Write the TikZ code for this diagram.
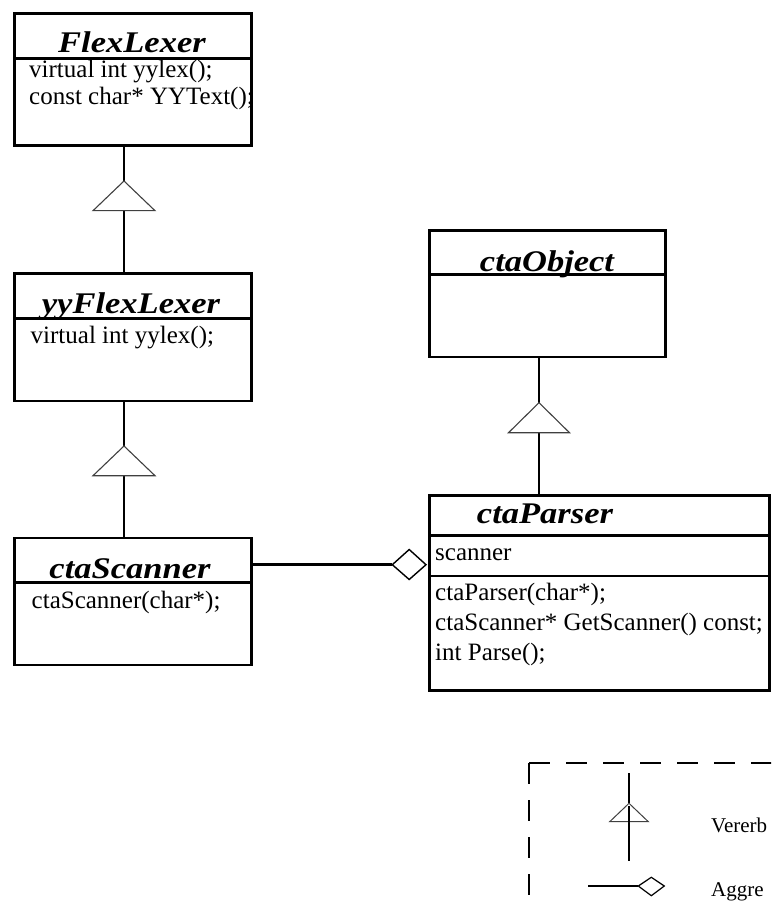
\documentclass[tikz,border=0pt]{standalone}
\usepackage{fontspec}
\setmainfont{Liberation Serif}
\newfontfamily\titlefont[FakeStretch=1.15]{Liberation Serif}
\begin{document}
\begin{tikzpicture}[x=1pt,y=-1pt,
  classbox/.style={draw, line width=2.8pt, anchor=north west, inner sep=0pt, minimum width=#1},
  classbox/.default=237pt,
  sepline/.style={line width=2.6pt},
  conn/.style={line width=2.6pt},
  inhtri/.style={draw=black!75, line width=1.1pt, fill=white, line join=miter},
  aggdiam/.style={draw, line width=1.4pt, fill=white},
  ctitle/.style={anchor=base, inner sep=0pt, font=\titlefont\bfseries\itshape\fontsize{30}{34}\selectfont},
  member/.style={anchor=base west, inner sep=0pt, font=\fontsize{25}{28}\selectfont},
  legtext/.style={anchor=base west, inner sep=0pt, font=\fontsize{21}{25}\selectfont},
  legdash/.style={line width=2pt, dash pattern=on 21pt off 16pt}]
\useasboundingbox (0,0) rectangle (771,909);
\clip (0,0) rectangle (771,909);

% class boxes
\node[classbox, minimum height=132pt]   (flex)    at (13,12)    {};
\node[classbox, minimum height=127.5pt] (yyflex)  at (13,272)   {};
\node[classbox, minimum height=127pt]   (scanner) at (13,536.5) {};
\node[classbox=236pt, minimum height=126.5pt] (object) at (428,229) {};
\node[classbox=340pt, minimum height=195pt]   (parser) at (428,494) {};

% compartment separators
\draw[sepline] (flex.west |- 0,58.3)    -- (flex.east |- 0,58.3);
\draw[sepline] (yyflex.west |- 0,318.3) -- (yyflex.east |- 0,318.3);
\draw[sepline] (scanner.west |- 0,582.3) -- (scanner.east |- 0,582.3);
\draw[sepline] (object.west |- 0,274.5) -- (object.east |- 0,274.5);
\draw[sepline] (parser.west |- 0,535.3) -- (parser.east |- 0,535.3);
\draw[sepline] (parser.west |- 0,575.8) -- (parser.east |- 0,575.8);

% class names
\node[ctitle] (flexname)    at (132,53)  {FlexLexer};
\node[ctitle] (yyflexname)  at (131,313) {yyFlexLexer};
\node[ctitle] (scannername) at (130,578) {ctaScanner};
\node[ctitle] (objectname)  at (547,271) {ctaObject};
\node[ctitle] (parsername)  at (545,523) {ctaParser};

% members
\node[member] (f1) at (29,77.3)  {virtual int yylex();};
\node[member] (f2) at (29,104.5) {const char* YYText();};
\node[member] (y1) at (30.5,343) {virtual int yylex();};
\node[member] (s1) at (31.5,608) {ctaScanner(char*);};
\node[member] (p0) at (435,560)  {scanner};
\node[member] (p1) at (435,600)  {ctaParser(char*);};
\node[member] (p2) at (435,630)  {ctaScanner* GetScanner() const;};
\node[member] (p3) at (435,660)  {int Parse();};

% inheritance: FlexLexer <- yyFlexLexer
\coordinate (t1a) at (124,181);
\coordinate (t1b) at (124,210.7);
\draw[conn] (t1a |- flex.south) -- (t1a);
\draw[conn] (t1b) -- (t1b |- yyflex.north);
\draw[inhtri] (t1a) -- (155,210.7) -- (93,210.7) -- cycle;

% inheritance: yyFlexLexer <- ctaScanner
\coordinate (t2a) at (124,446);
\coordinate (t2b) at (124,475.7);
\draw[conn] (t2a |- yyflex.south) -- (t2a);
\draw[conn] (t2b) -- (t2b |- scanner.north);
\draw[inhtri] (t2a) -- (155,475.7) -- (93,475.7) -- cycle;

% inheritance: ctaObject <- ctaParser
\coordinate (t3a) at (539,402.7);
\coordinate (t3b) at (539,432.7);
\draw[conn] (t3a |- object.south) -- (t3a);
\draw[conn] (t3b) -- (t3b |- parser.north);
\draw[inhtri] (t3a) -- (569.5,432.7) -- (508.5,432.7) -- cycle;

% aggregation: ctaParser holds a ctaScanner
\coordinate (agg) at (392.3,564.7);
\draw[conn] (agg -| scanner.east) -- (agg);
\draw[aggdiam] (agg) -- (409.2,549.5) -- (426,564.7) -- (409.2,579.5) -- cycle;

% legend frame
\coordinate (lg) at (529,763);
\draw[legdash] (lg) -- (790,763);
\draw[legdash] (lg) -- (529,930);

% legend: inheritance
\coordinate (lta) at (629,803.3);
\coordinate (ltb) at (629,821.7);
\draw[line width=2pt] (629,773) -- (lta);
\draw[line width=2pt] (ltb) -- (629,860.7);
\draw[inhtri, line width=1pt] (lta) -- (648.3,821.7) -- (609.7,821.7) -- cycle;
\draw[line width=2pt] (ltb) -- (629,806);
\node[legtext] (lvererb) at (711,832.7) {Vererb};

% legend: aggregation
\coordinate (lda) at (638.3,886);
\draw[line width=2pt] (588.3,886) -- (lda);
\draw[aggdiam, line width=1.2pt] (lda) -- (651.3,877.3) -- (664.3,886) -- (651.3,895.7) -- cycle;
\node[legtext] (laggre) at (711,896.7) {Aggre};
\end{tikzpicture}
\end{document}
